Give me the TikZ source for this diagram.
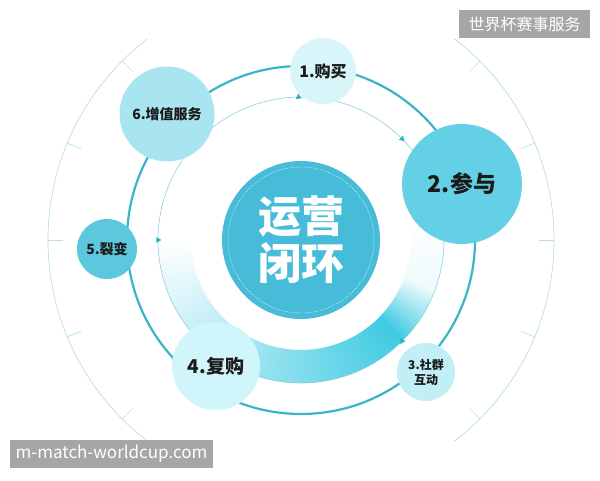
\documentclass[tikz,border=0pt]{standalone}
\usepackage{fontspec}
\newfontfamily\cjk{Noto Sans CJK SC}
\usepackage{tikz}
\usetikzlibrary{calc}
\usetikzlibrary{shapes.geometric}

\definecolor{ringc}{HTML}{3AB4C6}
\definecolor{thinc}{HTML}{8CCFDB}
\definecolor{outerc}{HTML}{B9DEE2}
\definecolor{bandc}{HTML}{2EC6E0}
\definecolor{arrowc}{HTML}{2AAFC8}
\definecolor{corec}{HTML}{47BCD8}
\definecolor{fillA}{HTML}{D8F5FA}
\definecolor{fillB}{HTML}{63D0E6}
\definecolor{fillC}{HTML}{C2EEF6}
\definecolor{fillD}{HTML}{D0F5FB}
\definecolor{fillE}{HTML}{5CC8DE}
\definecolor{fillF}{HTML}{A8E5F1}
\definecolor{textc}{HTML}{1A1A1A}
\definecolor{wmgray}{HTML}{A6A6A6}

\begin{document}
\begin{tikzpicture}[x=1pt, y=1pt,
  stage/.style={circle, inner sep=0pt, align=center, text=textc, font=\cjk\bfseries\fontsize{#1}{#1}\selectfont},
  tip/.style={isosceles triangle, isosceles triangle apex angle=60, fill=arrowc, inner sep=0pt, minimum size=5pt},
  wmbox/.style={fill=wmgray, text=white, inner sep=0pt, minimum height=28pt}]

\useasboundingbox (0,0) rectangle (600,480);
\coordinate (O) at (301,240);

% outer ring, cut off at top and bottom, with its ticks
\begin{scope}
\clip (0,40) rectangle (600,440);
\draw[outerc, line width=0.7pt] (O) circle[radius=253];
\foreach \a in {0,22.5,45,135,157.5,180,202.5,225,315,337.5}
  \draw[outerc, line width=0.7pt] ($(O)+(\a:238)$) -- ($(O)+(\a:253)$);
\end{scope}

% the fading band inside the thin ring, built from small pieces
\foreach \a in {180,181,...,370} {
  \pgfmathsetmacro\p{\a<315 ? 0.68*(\a-180) : max(0.25*(370-\a), 92-3.5*(\a-315))}
  \fill[bandc!\p!white] ($(O)+(\a:110)$) arc[start angle=\a, end angle=\a+1.5, radius=110]
    -- ($(O)+(\a+1.5:143)$) arc[start angle=\a+1.5, end angle=\a, radius=143] -- cycle;
}

% rings
\draw[thinc, line width=0.6pt] (O) circle[radius=143];
\draw[ringc, line width=2.2pt] (O) circle[radius=174];

% small triangles on the thin ring
\foreach \a/\r in {180/0, 91/-25, 45/-45, 315/0}
  \node[tip, rotate=\r] (t\a) at ($(O)+(\a:143)$) {};

% centre
\node[circle, fill=corec, minimum size=158pt, inner sep=0pt] (core) at (O) {};
\draw[white, line width=0.4pt, dash pattern=on 1pt off 1.2pt] (core.center) circle[radius=73];
\node[text=white, align=center, font=\cjk\bfseries\fontsize{43}{47}\selectfont] (title) at (core) {运营\\闭环};

% the six steps
\node[stage=16, fill=fillA, minimum size=66pt] (s1) at (323,409) {1.购买};
\node[stage=23, fill=fillB, minimum size=120pt] (s2) at (462,296) {2.参与};
\node[stage=12, fill=fillC, minimum size=58pt] (s3) at (426,108) {3.社群\\[3pt]互动};
\node[stage=19, fill=fillD, minimum size=88pt] (s4) at (216,114) {4.复购};
\node[stage=14, fill=fillE, minimum size=60pt] (s5) at (107,231) {5.裂变};
\node[stage=14, fill=fillF, minimum size=95pt] (s6) at (167,366) {6.增值服务};

% labels in the corners
\node[wmbox, minimum width=131pt, font=\cjk\fontsize{16}{16}\selectfont] (wmtop) at (524.5,456) {世界杯赛事服务};
\node[wmbox, minimum width=203pt, font=\cjk\fontsize{17}{17}\selectfont] (wmbot) at (111.5,26) {m-match-worldcup.com};

\end{tikzpicture}
\end{document}
